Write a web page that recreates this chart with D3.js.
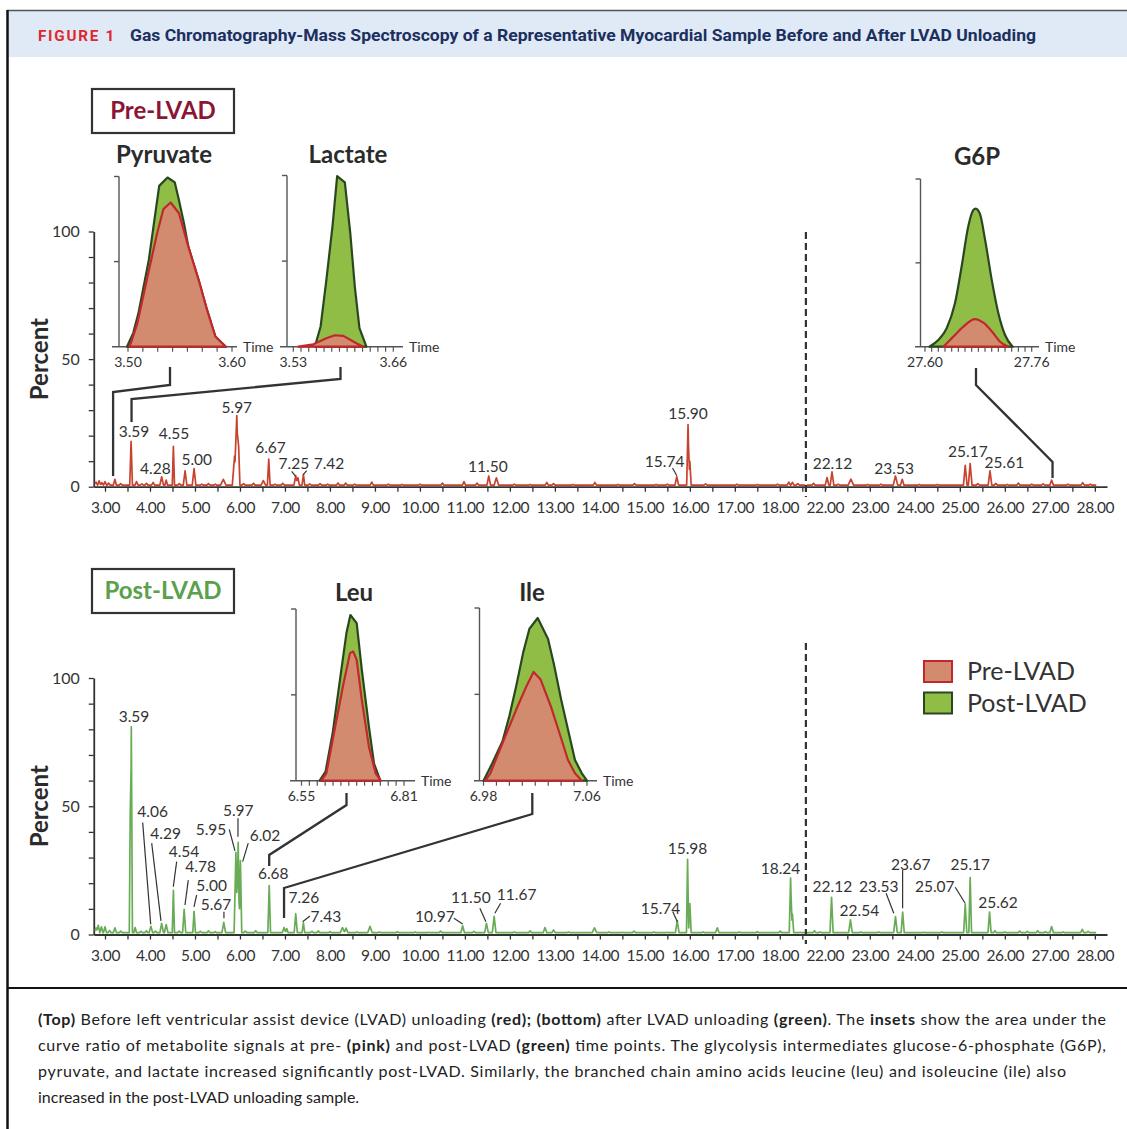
<!DOCTYPE html>
<html><head><meta charset="utf-8">
<script src="https://d3js.org/d3.v7.min.js"></script>
<style>
html,body{margin:0;padding:0;background:#fff;}
svg{display:block;}
</style></head><body>
<svg id="chart" width="1127" height="1129"></svg>
<script>
// ================= DATA =================
const majorTicks = [3,4,5,6,7,8,9,10,11,12,13,14,15,16,17,18,22,23,24,25,26,27,28];
const minorTicks = [3.5,4.5,5.5,6.5,7.5,8.5,9.5,10.5,11.5,12.5,13.5,14.5,15.5,16.5,17.5,18.5,22.5,23.5,24.5,25.5,26.5,27.5];
const yTicks = [0,10,20,30,40,50,60,70,80,90,100];
const yTickLabels = [0,50,100];

// peaks: [retention time, percent, half width]
const prePeaks = [[3.58,17.8,0.03],[4.26,3.9,0.04],[4.36,2.6,0.03],[4.52,15.8,0.025],[4.78,6.2,0.04],[4.98,7.1,0.04],
  [5.63,2.9,0.06],[5.88,12,0.05],[5.93,27.9,0.04],[5.97,16,0.03],[6.52,2.4,0.05],[6.64,10.8,0.03],[7.24,4.3,0.04],
  [7.29,3.5,0.03],[7.41,4.8,0.03],[11.53,4.2,0.04],[11.70,3.5,0.05],[15.71,3.9,0.04],[15.96,24.3,0.03],[16.0,10,0.03],
  [22.05,3.6,0.04],[22.16,5.8,0.04],[22.58,3.0,0.06],[23.57,4.2,0.05],[23.72,2.9,0.04],[25.12,8.4,0.04],[25.23,9.1,0.04],
  [25.67,6.2,0.04],[27.04,2.6,0.04]];
const preNoise = [[2.80,1.8],[2.87,2.3],[2.93,1.6],[3.0,2.0],[3.08,1.4],[3.22,2.9],[3.35,1.2],[3.70,2.0],[3.82,1.1],[3.92,1.3],
  [4.07,1.7],[4.65,1.2],[5.15,1.0],[5.30,1.2],[5.45,1.0],[6.08,1.2],[6.30,1.3],[6.78,1.0],[6.95,1.3],[7.55,1.1],[7.78,1.2],
  [7.95,1.0],[8.18,1.5],[8.35,1.4],[8.55,1.0],[8.93,1.8],[9.3,1.0],[9.6,0.9],[10.0,1.0],[10.5,1.4],[10.98,2.0],[11.27,1.4],
  [12.1,1.0],[12.45,0.9],[12.82,1.7],[12.97,1.2],[13.4,0.9],[13.89,1.7],[14.4,0.9],[14.77,1.2],[15.25,0.9],[15.5,1.0],
  [16.35,1.1],[17.05,1.0],[17.5,0.9],[17.95,1.0],[18.2,1.8],[18.28,1.7],[18.4,1.2],[21.75,1.3],[22.3,1.0],[22.95,0.9],
  [23.25,1.0],[24.1,0.9],[24.5,0.9],[25.4,1.2],[25.8,1.3],[26.05,0.9],[26.3,1.4],[26.6,1.0],[26.85,1.1],[27.4,1.0],
  [27.73,1.6],[27.9,1.0]];
const postPeaks = [[3.56,46,0.02],[3.585,81,0.025],[3.67,2.7,0.03],[4.02,3.2,0.04],[4.26,4.3,0.04],[4.36,3.9,0.04],
  [4.52,17.2,0.025],[4.76,9.8,0.035],[4.98,9,0.03],[5.64,4.7,0.04],[5.91,32,0.04],[5.96,35.9,0.03],[6.01,28.8,0.03],
  [6.65,19.1,0.03],[6.98,2.7,0.04],[7.04,2.3,0.03],[7.24,8.1,0.035],[7.41,4.5,0.03],[8.28,2.7,0.05],[8.36,2.5,0.04],
  [8.89,3.2,0.05],[10.95,3.4,0.04],[11.48,4.3,0.04],[11.65,7.1,0.04],[12.78,2.7,0.04],[13.88,2.6,0.05],[15.72,5.4,0.04],
  [15.95,29.3,0.025],[16.0,12,0.03],[16.61,2.6,0.04],[18.24,22,0.03],[18.28,8,0.03],[22.15,14.5,0.035],[22.57,5.7,0.04],
  [23.57,7,0.04],[23.73,8.7,0.035],[25.12,11.9,0.035],[25.23,22.2,0.03],[25.66,8.7,0.035],[27.04,3.1,0.04]];
const postNoise = [[2.80,2.6],[2.85,3.6],[2.92,3.0],[3.0,3.0],[3.1,1.6],[3.22,2.6],[3.35,1.3],[3.8,1.2],[3.92,1.5],[4.12,1.3],
  [4.65,1.3],[5.12,1.2],[5.3,1.4],[5.45,1.1],[6.12,1.3],[6.35,1.5],[7.6,1.2],[7.74,1.4],[8.0,1.1],[8.6,1.0],[9.1,1.0],
  [9.5,1.1],[9.9,1.0],[10.2,0.9],[10.46,1.3],[11.2,1.2],[12.1,1.0],[12.45,1.4],[12.97,1.8],[13.3,1.0],[14.2,1.0],[14.5,0.9],
  [14.76,1.3],[15.2,1.0],[15.5,0.9],[16.3,1.0],[17.1,1.0],[17.5,1.1],[18.01,1.3],[18.45,0.9],[21.77,1.5],[21.9,1.0],
  [22.8,1.0],[23.2,1.0],[24.2,0.9],[24.6,1.0],[25.78,1.5],[26.0,1.0],[26.33,1.3],[26.5,1.2],[26.73,1.5],[26.9,1.1],
  [27.3,1.0],[27.72,2.0],[27.85,1.2]];

// peak annotations: [text, time, percent] (label anchor, data units)
const preLabels = [["3.59",3.644,19.3],["4.55",4.533,18.5],["4.28",4.12,4.9],["5.00",5.04,8.4],["5.97",5.93,29],
  ["6.67",6.68,13.4],["7.25",7.2,6.8],["7.42",7.98,6.8],["11.50",11.51,5.6],["15.74",15.44,7.7],["15.90",15.96,26.5],
  ["22.12",22.17,7.1],["23.53",23.54,5.1],["25.17",25.18,11.6],["25.61",25.99,7.3]];
const preLeaders = [[7.149,6.0,7.238,4.0],[7.482,6.3,7.407,4.7],[15.616,7.3,15.711,4.3]];
const postLabels = [["3.59",3.644,82.7],["4.06",4.06,45.7],["4.29",4.349,37.4],["4.54",4.756,30.1],["4.78",5.127,24.2],
  ["5.00",5.371,16.9],["5.67",5.467,9.7],["5.95",5.356,38.6],["5.97",5.962,46.1],["6.02",6.556,36.3],["6.68",6.74,21.7],
  ["7.26",7.422,12.1],["7.43",7.911,4.8],["10.97",10.333,4.8],["11.50",11.133,12.1],["11.67",12.149,13.3],
  ["15.74",15.349,8.1],["15.98",15.949,31.2],["18.24",18.016,23.5],["22.12",22.169,16.5],["22.54",22.769,7.1],
  ["23.53",23.2,16.5],["23.67",23.909,25.3],["25.07",24.444,16.5],["25.17",25.233,25.3],["25.62",25.849,10.4]];
const postLeaders = [[3.838,43.6,4.016,4.0],[4.038,35.6,4.244,5.3],[4.593,28.4,4.518,18.6],[4.851,21.2,4.778,11.5],
  [5.038,15.4,4.978,10.8],[5.644,8.9,5.644,6.3],[5.762,41,5.889,32.6],[5.956,45.3,5.956,38.1],[6.184,35.6,6.06,28.4],
  [7.393,5,7.556,7.2],[10.756,6.3,10.949,4.1],[11.333,10.2,11.467,5],[11.793,12.2,11.667,8.3],[15.622,8.9,15.722,5],
  [23.362,16.1,23.533,8.3],[23.729,25.1,23.729,10.2],[24.898,18.4,25.118,12.2]];

// insets: [time, relative signal %]
const pyruvatePost = [[3.499,0],[3.505,8],[3.510,19.6],[3.520,51],[3.530,94.5],[3.538,99.4],[3.545,96.5],[3.549,86],[3.554,72],[3.558,58.8],[3.568,39],[3.576,21.6],[3.584,6],[3.594,0]];
const pyruvatePre = [[3.5016,0],[3.509,13.7],[3.518,39],[3.528,66.7],[3.534,80.8],[3.541,84.7],[3.549,78.4],[3.558,58.8],[3.568,39],[3.576,21.6],[3.584,6],[3.594,0]];
const lactatePost = [[3.558,0],[3.5655,11.8],[3.573,39],[3.581,70.6],[3.587,99.6],[3.597,96],[3.604,66.7],[3.610,35],[3.616,10.8],[3.625,0]];
const lactatePre = [[3.5365,0],[3.556,1.4],[3.573,4.9],[3.584,6.7],[3.595,6.3],[3.612,2],[3.621,0]];
const g6pPost = [[27.6065,0],[27.62,4],[27.6325,11],[27.645,26],[27.655,48],[27.665,72],[27.6725,81.5],[27.676,82.3],[27.6825,79],[27.69,64],[27.70,40],[27.71,20],[27.72,7],[27.7315,0]];
const g6pPre = [[27.6275,0],[27.6425,6],[27.6575,12],[27.675,16.5],[27.6875,14.3],[27.7025,8],[27.7125,3],[27.725,0]];
const leuPost = [[6.596,0],[6.611,5.3],[6.629,27.6],[6.651,64.6],[6.664,86],[6.674,96.5],[6.690,91.8],[6.703,64.6],[6.721,31.5],[6.734,10],[6.750,0]];
const leuPre = [[6.600,0],[6.613,4.3],[6.629,23.7],[6.655,54.9],[6.673,74.3],[6.681,75.3],[6.690,70.4],[6.703,47],[6.721,19.8],[6.738,4.3],[6.751,0]];
const ilePost = [[6.98,0],[6.9867,10],[6.9947,22.8],[7.0,37.4],[7.0053,54.9],[7.0107,74.3],[7.0155,88],[7.0219,94.2],[7.0299,82],[7.0347,66.5],[7.04,47],[7.0453,29.6],[7.0507,12],[7.056,4.3],[7.06,0]];
const ilePre = [[6.9813,0],[6.9853,4.3],[6.9947,21.8],[7.0053,41.2],[7.0133,54.9],[7.0187,63],[7.024,58.8],[7.032,43.2],[7.0387,27.6],[7.0453,12],[7.0507,4.3],[7.056,0]];
const insetNames = ["Pyruvate","Lactate","G6P","Leu","Ile"];
const insetRanges = [[3.50,3.60],[3.53,3.66],[27.60,27.76],[6.55,6.81],[6.98,7.06]];
const insetTickLabels = [["3.50","3.60"],["3.53","3.66"],["27.60","27.76"],["6.55","6.81"],["6.98","7.06"]];
const insetTickCounts = [8,14,17,14,9];
const insetConnectTimes = [3.18,3.59,27.06,6.65,6.98];
const panelTitles = ["Pre-LVAD","Post-LVAD"];
const legendLabels = ["Pre-LVAD","Post-LVAD"];
const headerLabel = "FIGURE 1";
const headerTitle = "Gas Chromatography-Mass Spectroscopy of a Representative Myocardial Sample Before and After LVAD Unloading";
const captionLines = [
  [["(Top)",1],[" Before left ventricular assist device (LVAD) unloading ",0],["(red); (bottom)",1],[" after LVAD unloading ",0],["(green)",1],[". The ",0],["insets",1],[" show the area under the",0]],
  [["curve ratio of metabolite signals at pre- ",0],["(pink)",1],[" and post-LVAD ",0],["(green)",1],[" time points. The glycolysis intermediates glucose-6-phosphate (G6P),",0]],
  [["pyruvate, and lactate increased significantly post-LVAD. Similarly, the branched chain amino acids leucine (leu) and isoleucine (ile) also",0]],
  [["increased in the post-LVAD unloading sample.",0]]
];

// ================= STYLE / LAYOUT =================
const FONT = "Lato, 'Open Sans', 'Noto Sans', sans-serif";
const INK = "#333333";
const RED_LINE = "#c8432f", GREEN_LINE = "#68ad55";
const PRE_FILL = "#d38b70", PRE_STROKE = "#c1282d";
const POST_FILL = "#8fbd45", POST_STROKE = "#2a4820";

const svg = d3.select("#chart");

// frame + header
svg.append("rect").attr("x",8).attr("y",11).attr("width",1119).attr("height",46).attr("fill","#dfeaf6");
svg.append("line").attr("x1",7).attr("x2",1127).attr("y1",10.5).attr("y2",10.5).attr("stroke","#555").attr("stroke-width",1.5);
svg.append("line").attr("x1",7.5).attr("x2",7.5).attr("y1",10).attr("y2",1129).attr("stroke","#111").attr("stroke-width",2.5);
svg.append("line").attr("x1",7).attr("x2",1127).attr("y1",988).attr("y2",988).attr("stroke","#111").attr("stroke-width",2);
svg.append("text").attr("x",38).attr("y",40.5).text(headerLabel)
  .attr("font-family","Roboto, 'Noto Sans', sans-serif").attr("font-weight",700).attr("font-size",14)
  .attr("letter-spacing",1.6).attr("fill","#e0262f").attr("textLength",78).attr("lengthAdjust","spacingAndGlyphs");
svg.append("text").attr("x",130).attr("y",40.5).text(headerTitle)
  .attr("font-family","'Liberation Sans Narrow', Roboto, sans-serif").attr("font-weight",700).attr("font-size",16)
  .attr("fill","#1c2f5f").attr("textLength",906).attr("lengthAdjust","spacingAndGlyphs");

// main x scale (broken axis)
const xMain = d3.scaleLinear().domain([2.75,18.58,21.58,28.27]).range([93.75,805.9,805.9,1107]);

function buildTrace(peaks, noise, base, t0, t1){
  const all = peaks.map(p=>({t:p[0],h:p[1],w:p[2]})).concat(noise.map(n=>({t:n[0],h:n[1],w:0.035})));
  const pts = new Set([t0,t1]);
  all.forEach(p=>{ [p.t-p.w,p.t,p.t+p.w].forEach(v=>{ if(v>=t0&&v<=t1) pts.add(v); }); });
  const ts = Array.from(pts).sort((a,b)=>a-b);
  return ts.map(t=>[t, base + d3.sum(all, p=>Math.max(0,(p.h-base)*(1-Math.abs(t-p.t)/p.w)))]);
}

function drawPanel(cfg){
  const y = d3.scaleLinear().domain([0,100]).range(cfg.yRange);
  const g = svg.append("g");
  const ax = g.append("g").attr("transform",`translate(0,${cfg.yRange[0]})`)
    .call(d3.axisBottom(xMain).tickValues(majorTicks).tickSize(5).tickSizeOuter(0).tickPadding(10).tickFormat(d3.format(".2f")));
  ax.select(".domain").attr("stroke",INK).attr("stroke-width",1.8);
  ax.selectAll(".tick line").attr("stroke",INK).attr("stroke-width",1.3);
  ax.selectAll(".tick text").attr("font-family",FONT).attr("font-size",15.5).attr("letter-spacing",-0.4).attr("fill",INK);
  const axm = g.append("g").attr("transform",`translate(0,${cfg.yRange[0]})`)
    .call(d3.axisBottom(xMain).tickValues(minorTicks).tickSize(5).tickFormat(""));
  axm.select(".domain").remove();
  axm.selectAll(".tick line").attr("stroke",INK).attr("stroke-width",1.3);
  const ay = g.append("g").attr("transform",`translate(${xMain(2.75)},0)`)
    .call(d3.axisLeft(y).tickValues(yTicks).tickSize(5).tickSizeOuter(0).tickPadding(9)
      .tickFormat(d=>yTickLabels.includes(d)?d:""));
  ay.select(".domain").attr("stroke",INK).attr("stroke-width",1.8);
  ay.selectAll(".tick line").attr("stroke",INK).attr("stroke-width",1.3);
  ay.selectAll(".tick text").attr("font-family",FONT).attr("font-size",16).attr("fill",INK);
  g.append("text").attr("transform",`translate(48,${(cfg.yRange[0]+cfg.yRange[1])/2})rotate(-90)`)
    .attr("text-anchor","middle").attr("font-family",FONT).attr("font-weight",700).attr("font-size",24)
    .attr("fill","#2b2b2b").text("Percent");
  const line = d3.line().x(d=>xMain(d[0])).y(d=>y(d[1]));
  [[2.78,18.56],[21.6,28.03]].forEach(seg=>{
    g.append("path").attr("d",line(buildTrace(cfg.peaks,cfg.noise,cfg.base,seg[0],seg[1])))
      .attr("fill","none").attr("stroke",cfg.color).attr("stroke-width",1.7).attr("stroke-linejoin","round");
  });
  g.append("line").attr("x1",xMain(18.58)).attr("x2",xMain(18.58)).attr("y1",cfg.dash[0]).attr("y2",cfg.dash[1])
    .attr("stroke",INK).attr("stroke-width",2.2).attr("stroke-dasharray","7,4");
  g.selectAll(null).data(cfg.labels).enter().append("text")
    .attr("x",d=>xMain(d[1])).attr("y",d=>y(d[2])).attr("text-anchor","middle")
    .attr("font-family",FONT).attr("font-size",15.5).attr("fill",INK).text(d=>d[0]);
  g.selectAll(null).data(cfg.leaders).enter().append("line")
    .attr("x1",d=>xMain(d[0])).attr("y1",d=>y(d[1])).attr("x2",d=>xMain(d[2])).attr("y2",d=>y(d[3]))
    .attr("stroke",INK).attr("stroke-width",1.2);
  g.append("rect").attr("x",92).attr("y",cfg.boxY).attr("width",142).attr("height",44)
    .attr("fill","#fff").attr("stroke",INK).attr("stroke-width",2.2);
  g.append("text").attr("x",163).attr("y",cfg.boxY+30).attr("text-anchor","middle")
    .attr("font-family",FONT).attr("font-weight",700).attr("font-size",24).attr("fill",cfg.titleColor).text(cfg.title);
  return y;
}

drawPanel({yRange:[486.7,231.5], peaks:prePeaks, noise:preNoise, base:0.6, color:RED_LINE, dash:[232,497],
  labels:preLabels, leaders:preLeaders, boxY:89, title:panelTitles[0], titleColor:"#8b1535"});
drawPanel({yRange:[934.5,678], peaks:postPeaks, noise:postNoise, base:0.7, color:GREEN_LINE, dash:[643,944],
  labels:postLabels, leaders:postLeaders, boxY:569, title:panelTitles[1], titleColor:"#5ba04c"});

// insets
const insetData = [[pyruvatePre,pyruvatePost],[lactatePre,lactatePost],[g6pPre,g6pPost],[leuPre,leuPost],[ilePre,ilePost]];
const insetLayout = [
  {axisX:119, x0:128, x1:232, lineStart:112, lineEnd:237, top:176.5, bot:346.7, titleX:164, titleY:162.5, smooth:false},
  {axisX:287, x0:293.3, x1:393.3, lineStart:280, lineEnd:403, top:175.5, bot:346.7, titleX:348, titleY:162.5, smooth:false},
  {axisX:920.5, x0:925, x1:1031.7, lineStart:915, lineEnd:1039, top:179, bot:346.7, titleX:977, titleY:164.5, smooth:true},
  {axisX:296, x0:301.5, x1:404, lineStart:290, lineEnd:415, top:609, bot:780.7, titleX:354, titleY:600.5, smooth:false},
  {axisX:479.5, x0:483.5, x1:587, lineStart:474, lineEnd:597, top:608, bot:780.7, titleX:532, titleY:600.5, smooth:false}
];
insetNames.forEach((name,i)=>{
  const L = insetLayout[i];
  const xs = d3.scaleLinear().domain(insetRanges[i]).range([L.x0,L.x1]);
  const ys = d3.scaleLinear().domain([0,100]).range([L.bot,L.top]);
  const g = svg.append("g");
  g.append("text").attr("x",L.titleX).attr("y",L.titleY).attr("text-anchor","middle")
    .attr("font-family",FONT).attr("font-weight",700).attr("font-size",24).attr("fill","#2b2b2b").text(name);
  g.append("line").attr("x1",L.axisX).attr("x2",L.axisX).attr("y1",L.top).attr("y2",L.bot).attr("stroke","#555").attr("stroke-width",1.4);
  [100,50].forEach(v=>g.append("line").attr("x1",L.axisX-5).attr("x2",L.axisX).attr("y1",ys(v)).attr("y2",ys(v)).attr("stroke","#555").attr("stroke-width",1.4));
  g.append("line").attr("x1",L.lineStart).attr("x2",L.lineEnd).attr("y1",L.bot).attr("y2",L.bot).attr("stroke","#555").attr("stroke-width",1.4);
  const n = insetTickCounts[i];
  const tv = d3.range(n).map(k=>insetRanges[i][0] + k*(insetRanges[i][1]-insetRanges[i][0])/(n-1));
  g.selectAll(null).data(tv).enter().append("line").attr("x1",d=>xs(d)).attr("x2",d=>xs(d))
    .attr("y1",L.bot).attr("y2",L.bot+5).attr("stroke","#555").attr("stroke-width",1.2);
  insetRanges[i].forEach((v,k)=>g.append("text").attr("x",xs(v)).attr("y",L.bot+20).attr("text-anchor","middle")
    .attr("font-family",FONT).attr("font-size",14).attr("fill",INK).text(insetTickLabels[i][k]));
  g.append("text").attr("x",L.lineEnd+6).attr("y",L.bot+5).attr("font-family",FONT).attr("font-size",14).attr("fill",INK).text("Time");
  const area = d3.area().x(d=>xs(d[0])).y0(L.bot).y1(d=>ys(d[1])).curve(L.smooth?d3.curveMonotoneX:d3.curveLinear);
  g.append("path").attr("d",area(insetData[i][1])).attr("fill",POST_FILL).attr("stroke",POST_STROKE).attr("stroke-width",2.2).attr("stroke-linejoin","round");
  g.append("path").attr("d",area(insetData[i][0])).attr("fill",PRE_FILL).attr("stroke",PRE_STROKE).attr("stroke-width",2.2).attr("stroke-linejoin","round");
});

// connectors from insets to peaks
const connectorLayout = [
  [[170,367],[170,385],[null,392],[null,476]],
  [[340.5,367],[340.5,379],[null,399],[null,422]],
  [[976,368],[976,385],[null,462],[null,478]],
  [[346.5,793],[346.5,805],[null,855],[null,866]],
  [[532.3,793],[532.3,814],[null,888],[null,918]]
];
connectorLayout.forEach((pts,i)=>{
  const p = pts.map(q=>[q[0]===null?xMain(insetConnectTimes[i]):q[0], q[1]]);
  svg.append("path").attr("d",d3.line()(p)).attr("fill","none").attr("stroke",INK).attr("stroke-width",2.3);
});

// legend
const legendColors = [[PRE_FILL,PRE_STROKE],[POST_FILL,POST_STROKE]];
legendLabels.forEach((lab,i)=>{
  svg.append("rect").attr("x",924).attr("y",661+i*31.5).attr("width",28).attr("height",21)
    .attr("fill",legendColors[i][0]).attr("stroke",legendColors[i][1]).attr("stroke-width",2);
  svg.append("text").attr("x",967).attr("y",680+i*32).attr("font-family",FONT).attr("font-size",25).attr("fill",INK).text(lab);
});

// caption
const capWidths = [1068,1068,1028,null];
captionLines.forEach((segs,i)=>{
  const t = svg.append("text").attr("x",38).attr("y",1025+i*26)
    .attr("font-family",FONT).attr("font-size",16).attr("fill","#222");
  if(capWidths[i]) t.attr("textLength",capWidths[i]).attr("lengthAdjust","spacing");
  segs.forEach(s=>t.append("tspan").attr("font-weight",s[1]?700:400).text(s[0]));
});
</script></body></html>
